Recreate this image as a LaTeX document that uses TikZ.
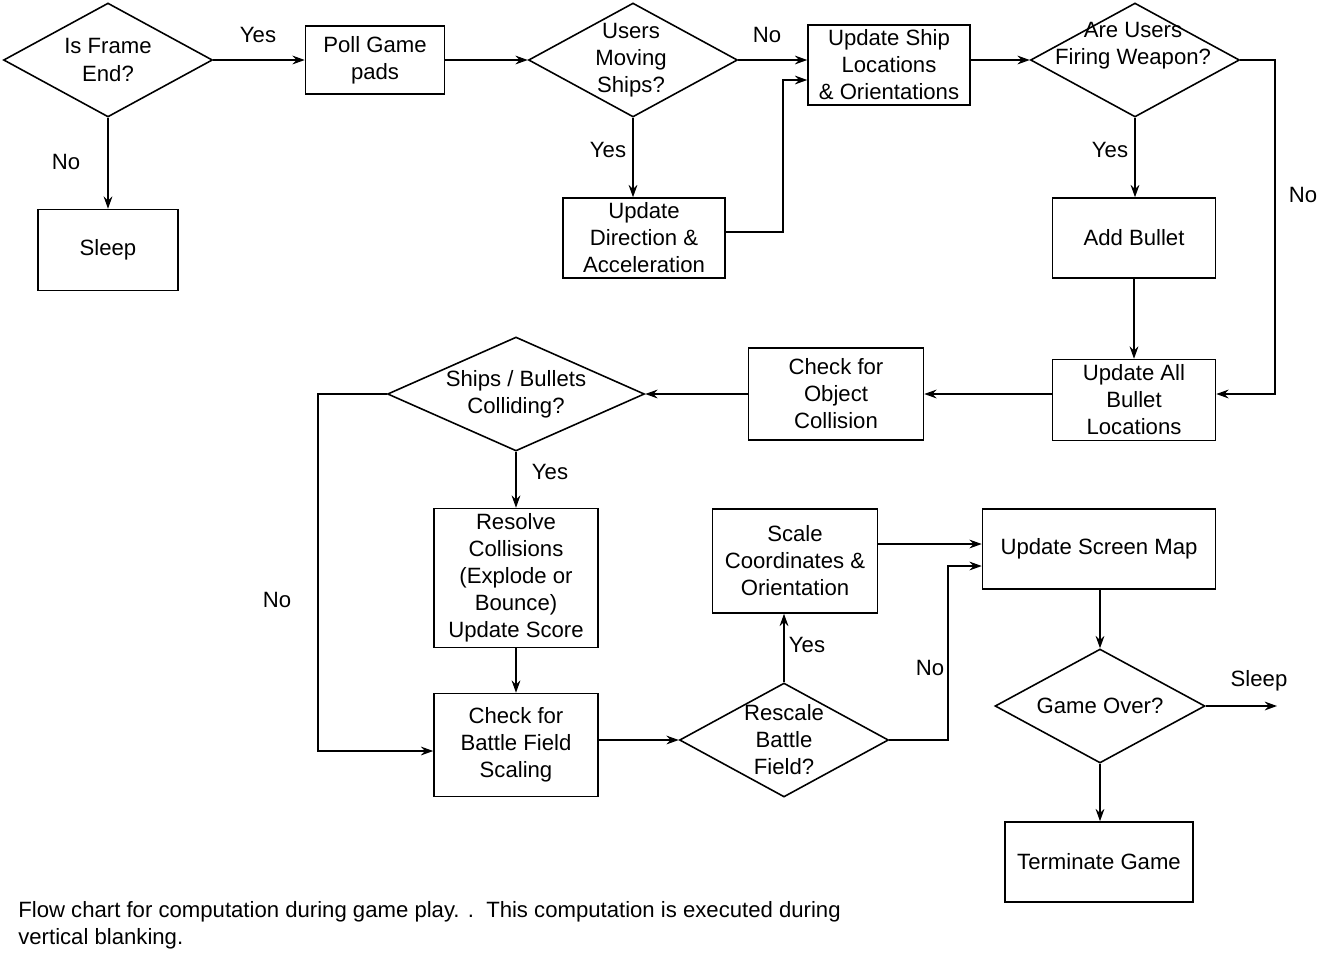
\documentclass[tikz,border=0pt]{standalone}
\usepackage{fontspec}
\setmainfont{Liberation Sans}
\usetikzlibrary{shapes.geometric,arrows.meta}
\begin{document}
\begin{tikzpicture}[x=0.02cm,y=-0.02cm,
  font=\fontsize{12.6}{15.4}\selectfont,
  box/.style={draw,line width=0.9pt,align=center,inner sep=0pt},
  dia/.style={draw,line width=0.9pt,diamond,inner sep=0pt,minimum width=4.18cm,minimum height=2.28cm},
  txt/.style={align=center,inner sep=0pt},
  lab/.style={inner sep=0pt},
  arr/.style={line width=0.9pt,-{Stealth[length=7pt,width=5pt]}}]
\useasboundingbox[fill=white] (0,0) rectangle (1335,961);
\node[dia] (d1) at (108,60) {};
\node[txt] at (108,60) {Is Frame\\End?};
\node[box,minimum width=2.78cm,minimum height=1.36cm] (poll) at (375,60) {Poll Game\\pads};
\node[dia] (d2) at (633,60) {};
\node[txt] at (631,60) {Users\\Moving\\Ships?};
\node[box,minimum width=3.24cm,minimum height=1.6cm] (ship) at (889,65) {Update Ship\\Locations\\\& Orientations};
\node[dia] (d3) at (1135,60) {};
\node[txt] at (1133,46) {Are Users\\Firing Weapon?};
\node[box,minimum width=2.8cm,minimum height=1.62cm] (sleep) at (108,250) {Sleep};
\node[box,minimum width=3.24cm,minimum height=1.6cm] (dir) at (644,238) {Update\\Direction \&\\Acceleration};
\node[box,minimum width=3.26cm,minimum height=1.6cm] (add) at (1134,238) {Add Bullet};
\node[box,minimum width=3.26cm,minimum height=1.62cm] (all) at (1134,400) {Update All\\Bullet\\Locations};
\node[box,minimum width=3.5cm,minimum height=1.84cm] (obj) at (836,394) {Check for\\Object\\Collision};
\node[dia,minimum width=5.14cm] (d4) at (516,394) {};
\node[txt] at (516,394) {Ships / Bullets\\Colliding?};
\node[box,minimum width=3.28cm,minimum height=2.78cm] (res) at (516,578) {Resolve\\Collisions\\(Explode or\\Bounce)\\Update Score};
\node[box,minimum width=3.28cm,minimum height=2.06cm] (bat) at (516,745) {Check for\\Battle Field\\Scaling};
\node[dia] (d5) at (784,740) {};
\node[txt] at (784,740) {Rescale\\Battle\\Field?};
\node[box,minimum width=3.3cm,minimum height=2.08cm] (sc) at (795,561) {Scale\\Coordinates \&\\Orientation};
\node[box,minimum width=4.66cm,minimum height=1.6cm] (map) at (1099,549) {Update Screen Map};
\node[dia,minimum width=4.2cm] (d6) at (1100,706) {};
\node[txt] at (1100,706) {Game Over?};
\node[box,minimum width=3.76cm,minimum height=1.6cm] (term) at (1099,862) {Terminate Game};
\coordinate (sleepend) at (1277,706);

\draw[arr] (d1.east) -- (poll.west);
\node[lab] at (258,35) {Yes};
\draw[arr] (d1.south) -- (sleep.north);
\node[lab] at (66,162) {No};
\draw[arr] (poll.east) -- (d2.west);
\draw[arr] (d2.east) -- (d2.east -| ship.west);
\node[lab] at (767,35) {No};
\draw[arr] (d2.south) -- (d2.south |- dir.north);
\node[lab] at (608,150) {Yes};
\draw[arr] (dir.east |- 0,232) -- (783,232) -- (783,80) -- (ship.west |- 0,80);
\draw[arr] (ship.east |- d3.west) -- (d3.west);
\draw[arr] (d3.south) -- (d3.south |- add.north);
\node[lab] at (1110,150) {Yes};
\draw[arr] (d3.east) -- (1275,60) -- (1275,394) -- (all.east |- 0,394);
\node[lab] at (1303,195) {No};
\draw[arr] (add.south) -- (all.north);
\draw[arr] (all.west |- obj.east) -- (obj.east);
\draw[arr] (obj.west) -- (d4.east);
\draw[arr] (d4.south) -- (res.north);
\node[lab] at (550,472) {Yes};
\draw[arr] (d4.west) -- (318,394) -- (318,751) -- (bat.west |- 0,751);
\node[lab] at (277,600) {No};
\draw[arr] (res.south) -- (bat.north);
\draw[arr] (bat.east |- d5.west) -- (d5.west);
\draw[arr] (d5.north) -- (d5.north |- sc.south);
\node[lab] at (807,645) {Yes};
\draw[arr] (d5.east) -- (948,740) -- (948,566) -- (map.west |- 0,566);
\node[lab] at (930,668) {No};
\draw[arr] (sc.east |- 0,544) -- (map.west |- 0,544);
\draw[arr] (map.south -| d6.north) -- (d6.north);
\draw[arr] (d6.east) -- (sleepend);
\node[lab] at (1259,681) {Sleep};
\draw[arr] (d6.south) -- (d6.south |- term.north);
\node[lab,anchor=west,align=left] at (18,925) {Flow chart for computation during game play. .\ \ This computation is executed during\\vertical blanking.};
\end{tikzpicture}
\end{document}
